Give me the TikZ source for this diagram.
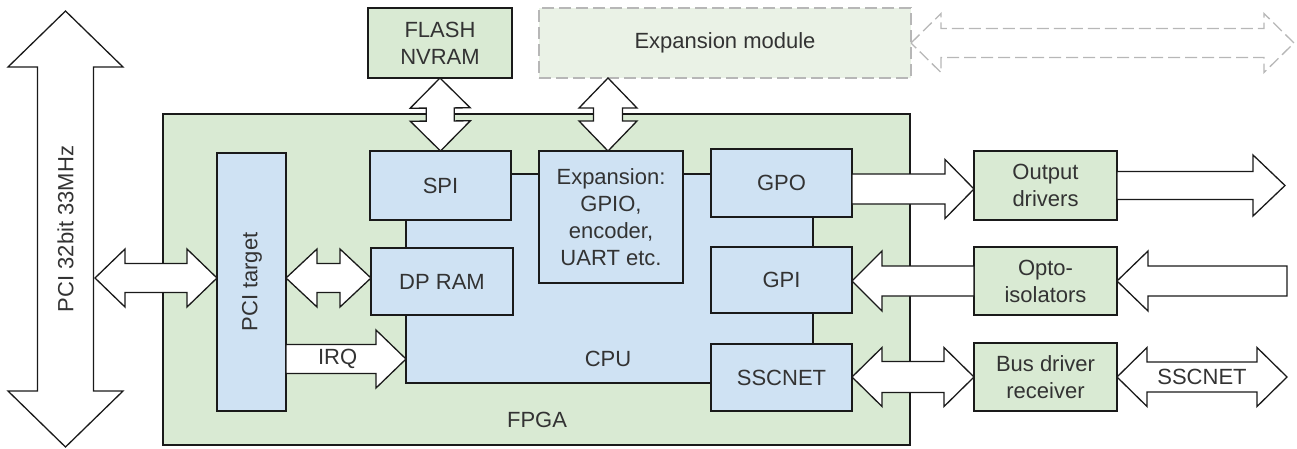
\documentclass[tikz,border=0pt]{standalone}
\usepackage{fontspec}
\setmainfont{Liberation Sans}
\usetikzlibrary{calc}
\definecolor{fgreen}{HTML}{D9EAD3}
\definecolor{fblue}{HTML}{CFE2F3}
\definecolor{fpale}{HTML}{EAF2E6}
\definecolor{dgray}{HTML}{B7B7B7}
\definecolor{txt}{HTML}{333333}
\definecolor{edge}{HTML}{1A1A1A}
% double arrow: #1 style, #2 tip A, #3 tip B, #4 head length, #5 head half width, #6 shaft half width
\newcommand\DArr[6]{%
 \draw[#1] (#2)
 -- ($(#2)!#4!(#3)!#5!90:(#3)$)
 -- ($(#2)!#4!(#3)!#6!90:(#3)$)
 -- ($(#3)!#4!(#2)!#6!-90:(#2)$)
 -- ($(#3)!#4!(#2)!#5!-90:(#2)$)
 -- (#3)
 -- ($(#3)!#4!(#2)!#5!90:(#2)$)
 -- ($(#3)!#4!(#2)!#6!90:(#2)$)
 -- ($(#2)!#4!(#3)!#6!-90:(#3)$)
 -- ($(#2)!#4!(#3)!#5!-90:(#3)$)
 -- cycle;}
% single arrow: #2 tail, #3 tip
\newcommand\SArr[6]{%
 \draw[#1] ($(#2)!#6!90:(#3)$)
 -- ($(#3)!#4!(#2)!#6!-90:(#2)$)
 -- ($(#3)!#4!(#2)!#5!-90:(#2)$)
 -- (#3)
 -- ($(#3)!#4!(#2)!#5!90:(#2)$)
 -- ($(#3)!#4!(#2)!#6!90:(#2)$)
 -- ($(#2)!#6!-90:(#3)$)
 -- cycle;}
\begin{document}
\begin{tikzpicture}[x=1pt,y=-1pt,
  every node/.style={font=\fontsize{22}{27}\selectfont, text=txt},
  box/.style={draw=edge, line width=1.5pt, inner sep=0pt, outer sep=0pt, align=center},
  gbox/.style={box, fill=fgreen},
  bbox/.style={box, fill=fblue},
  arr/.style={draw=edge, fill=white, line width=1.3pt, line join=miter},
  darr/.style={draw=dgray, line width=1.3pt, dash pattern=on 12pt off 5pt}]
\useasboundingbox (0,0) rectangle (1297,448);
% FPGA and CPU
\node[gbox, minimum width=747pt, minimum height=331pt] (fpga) at (536.5,279.5) {};
\node (fpgalbl) at (537,420) {FPGA};
\node[bbox, minimum width=407pt, minimum height=209pt] (cpu) at (609.5,278.5) {};
\node (cpulbl) at (608,359) {CPU};
% blocks
\node[bbox, minimum width=69pt, minimum height=258pt] (pcit) at (251.5,282) {};
\node[rotate=90] (pcitlbl) at (252,282) {PCI target};
\node[bbox, minimum width=141pt, minimum height=69pt] (spi) at (440.5,185.5) {SPI};
\node[bbox, minimum width=142pt, minimum height=67pt] (dpram) at (442,281.5) {DP RAM};
\node[gbox, minimum width=144pt, minimum height=70pt] (flash) at (440,43) {FLASH\\NVRAM};
\node[box, draw=dgray, dash pattern=on 12pt off 5pt, fill=fpale, minimum width=372pt, minimum height=70pt] (expmod) at (725,43) {Expansion module};
\node[bbox, minimum width=144pt, minimum height=132pt] (exp) at (611,217) {Expansion:\\GPIO,\\encoder,\\UART etc.};
\node[bbox, minimum width=141pt, minimum height=68pt] (gpo) at (781.5,183) {GPO};
\node[bbox, minimum width=141pt, minimum height=66pt] (gpi) at (781.5,280) {GPI};
\node[bbox, minimum width=141pt, minimum height=67pt] (ssc) at (781.5,377.5) {SSCNET};
\node[gbox, minimum width=143pt, minimum height=69pt] (outdrv) at (1045.5,185.5) {Output\\drivers};
\node[gbox, minimum width=143pt, minimum height=68pt] (opto) at (1045.5,281) {Opto-\\isolators};
\node[gbox, minimum width=143pt, minimum height=68pt] (busdrv) at (1045.5,377) {Bus driver\\receiver};
% coordinates for arrow ends
\coordinate (pcibusT) at (65.5,11);
\coordinate (pcibusB) at (65.5,447);
\coordinate (pcibusR) at (95,278);
\coordinate (a2r) at (pcit.west |- pcibusR);
\coordinate (a3l) at (pcit.east |- pcibusR);
\coordinate (a3r) at (dpram.west |- pcibusR);
\coordinate (irqL) at (pcit.east |- cpulbl);
\coordinate (irqR) at (cpu.west |- cpulbl);
\coordinate (a6t) at (exp.north |- expmod.south);
\coordinate (a6b) at ($(exp.north)+(-3,0)$);
\coordinate (a6tt) at ($(a6t)+(-3,0)$);
\coordinate (dashR) at (1294,43);
\coordinate (a8l) at ($(gpo.east)+(0,6)$);
\coordinate (a8r) at (outdrv.west |- a8l);
\coordinate (outR) at (1285,185.5);
\coordinate (a10) at (gpi.east |- opto.west);
\coordinate (inR) at (1287,281);
\coordinate (a12) at (ssc.east |- busdrv.west);
\coordinate (sscR) at (1287,377);
% arrows
\DArr{arr}{pcibusT}{pcibusB}{56pt}{57.5pt}{28pt}
\node[rotate=90] (pcilbl) at (65.5,229) {PCI 32bit 33MHz};
\DArr{arr}{pcibusR}{a2r}{30pt}{29pt}{14.5pt}
\DArr{arr}{a3l}{a3r}{31pt}{29pt}{14.5pt}
\SArr{arr}{irqL}{irqR}{30pt}{29pt}{14.5pt}
\node (irqlbl) at ($(irqL)!0.43!(irqR)$) {IRQ};
\DArr{arr}{flash.south}{spi.north}{30pt}{30pt}{14pt}
\DArr{arr}{a6tt}{a6b}{30pt}{29pt}{14.5pt}
\DArr{darr}{expmod.east}{dashR}{30pt}{29.5pt}{14.5pt}
\SArr{arr}{a8l}{a8r}{29pt}{29.5pt}{15pt}
\SArr{arr}{outdrv.east}{outR}{32pt}{30.5pt}{14pt}
\SArr{arr}{opto.west}{a10}{30pt}{30pt}{15pt}
\SArr{arr}{inR}{opto.east}{31pt}{30pt}{15pt}
\DArr{arr}{a12}{busdrv.west}{30pt}{29.5pt}{15.5pt}
\DArr{arr}{busdrv.east}{sscR}{30pt}{29.5pt}{15pt}
\node (ssclbl) at ($(busdrv.east)!0.5!(sscR)$) {SSCNET};
\end{tikzpicture}
\end{document}
